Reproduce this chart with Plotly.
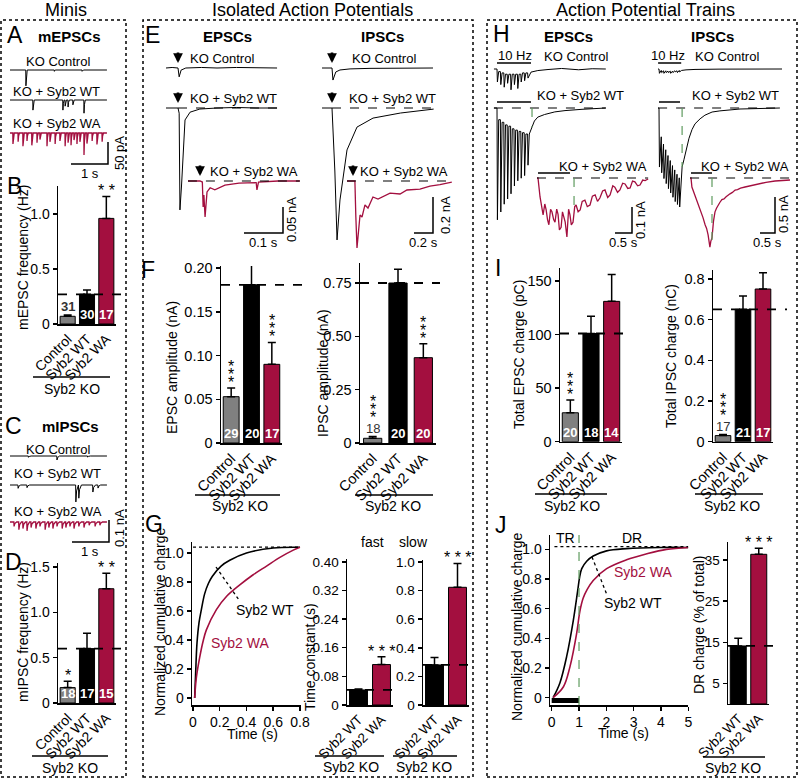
import plotly.graph_objects as go

# =============================== DATA ===============================
bar_groups = ["Control", "Syb2 WT", "Syb2 WA"]
tau_groups = ["Syb2 WT", "Syb2 WA"]

mepsc_freq = [0.07, 0.27, 0.96]
mepsc_freq_err = [0.012, 0.04, 0.20]
mepsc_n = ["31", "30", "17"]
mepsc_sig = ["", "", "**"]

mipsc_freq = [0.17, 0.60, 1.26]
mipsc_freq_err = [0.07, 0.17, 0.17]
mipsc_n = ["18", "17", "15"]
mipsc_sig = ["*", "", "**"]

epsc_amp = [0.053, 0.181, 0.090]
epsc_amp_err = [0.010, 0.023, 0.025]
epsc_amp_n = ["29", "20", "17"]
epsc_amp_sig = ["***", "", "***"]

ipsc_amp = [0.022, 0.75, 0.40]
ipsc_amp_err = [0.008, 0.065, 0.065]
ipsc_amp_n = ["18", "20", "20"]
ipsc_amp_sig = ["***", "", "***"]

epsc_charge = [27, 101, 131]
epsc_charge_err = [12, 16, 25]
epsc_charge_n = ["20", "18", "14"]
epsc_charge_sig = ["***", "", ""]

ipsc_charge = [0.030, 0.651, 0.751]
ipsc_charge_err = [0.005, 0.066, 0.080]
ipsc_charge_n = ["17", "21", "17"]
ipsc_charge_sig = ["***", "", ""]

tau_fast = [0.042, 0.113]
tau_fast_err = [0.003, 0.022]
tau_fast_sig = ["", "***"]
tau_slow = [0.28, 0.823]
tau_slow_err = [0.053, 0.167]
tau_slow_sig = ["", "***"]

dr_charge = [14.1, 36.4]
dr_charge_err = [1.9, 1.5]
dr_charge_sig = ["", "***"]

# cumulative charge (G: single AP, J: train)
g_wt_t = [0.0125, 0.02, 0.03, 0.045, 0.0625, 0.0875, 0.115, 0.145, 0.21, 0.275, 0.4, 0.6, 0.8]
g_wt_q = [0, 0.18, 0.38, 0.52, 0.61, 0.72, 0.79, 0.84, 0.91, 0.95, 1.0, 1.035, 1.04]
g_wa_t = [0.0125, 0.025, 0.05, 0.075, 0.1, 0.175, 0.25, 0.35, 0.45, 0.55, 0.65, 0.75, 0.8]
g_wa_q = [0, 0.14, 0.28, 0.39, 0.47, 0.61, 0.70, 0.78, 0.85, 0.91, 0.97, 1.02, 1.04]
g_plateau = 1.04

j_wt_t = [0.05, 0.30, 0.55, 0.79, 0.95, 1.02, 1.10, 1.28, 1.52, 2.01, 2.74, 3.96, 5.0]
j_wt_q = [0, 0.10, 0.28, 0.52, 0.72, 0.81, 0.87, 0.92, 0.955, 0.99, 1.005, 1.013, 1.013]
j_wa_t = [0.05, 0.43, 0.67, 0.91, 1.03, 1.15, 1.30, 1.52, 2.01, 2.74, 3.48, 4.2, 5.0]
j_wa_q = [0, 0.074, 0.21, 0.43, 0.58, 0.67, 0.73, 0.79, 0.87, 0.93, 0.97, 1.0, 1.013]
j_plateau = 1.018
j_train = [0.0, 1.0]

# A: mEPSC events (s, pA)
mepsc_t_end = 2.62
mepsc_ctrl_ev_t = [0.43, 1.20, 1.95]
mepsc_ctrl_ev_amp = [36, 3, 3]
mepsc_wt_ev_t = [0.62, 1.43, 1.49, 1.57, 1.70, 2.00]
mepsc_wt_ev_amp = [23, 23, 14, 16, 11, 30]
mepsc_wa_ev_t = [0.08, 0.22, 0.35, 0.46, 0.59, 0.73, 0.81, 1.00, 1.08, 1.22, 1.35, 1.49,
                 1.57, 1.65, 1.73, 1.81, 1.89, 2.00, 2.08, 2.22, 2.35, 2.49]
mepsc_wa_ev_amp = [25, 20, 30, 18, 28, 22, 15, 30, 20, 25, 18, 30, 22, 28, 16, 25, 20, 50, 24, 18, 26, 20]

# C: mIPSC events (s, nA)
mipsc_t_end = 2.62
mipsc_ctrl_ev_t = [0.5, 1.27, 2.1]
mipsc_ctrl_ev_amp = [0.006, 0.018, 0.005]
mipsc_wt_ev_t = [0.22, 0.46, 1.78, 1.86, 2.24, 2.38]
mipsc_wt_ev_amp = [0.015, 0.012, 0.077, 0.060, 0.032, 0.014]
mipsc_wa_ev_t = [0.11, 0.24, 0.35, 0.46, 0.57, 0.70, 0.81, 0.95, 1.05, 1.16, 1.27, 1.41, 1.51,
                 1.62, 1.73, 1.86, 2.0, 2.14, 2.3, 2.43]
mipsc_wa_ev_amp = [0.02, 0.035, 0.03, 0.04, 0.025, 0.03, 0.02, 0.035, 0.025, 0.03, 0.02, 0.03,
                   0.025, 0.02, 0.03, 0.02, 0.025, 0.015, 0.02, 0.015]

# E: single-AP evoked responses (s, nA)
e_epsc_ctrl_t = [-0.031, -0.015, 0.0, 0.003, 0.008, 0.02, 0.06, 0.1, 0.15, 0.2, 0.254]
e_epsc_ctrl_i = [0, 0.001, 0, -0.017, -0.004, 0, 0.001, 0, 0.001, 0, 0]
e_epsc_wt_t = [-0.031, 0.0, 0.003, 0.005, 0.009, 0.013, 0.018, 0.031, 0.056, 0.1, 0.15, 0.2, 0.254]
e_epsc_wt_i = [0, 0, -0.01, -0.196, -0.15, -0.08, -0.023, -0.008, -0.002, 0, 0.001, 0, 0]
e_epsc_wa_t = [-0.031, 0.0, 0.006, 0.008, 0.010, 0.013, 0.018, 0.026, 0.038, 0.064, 0.10, 0.144,
               0.146, 0.150, 0.2, 0.256]
e_epsc_wa_i = [0, 0, -0.002, -0.05, -0.027, -0.069, -0.021, -0.013, -0.017, -0.008, -0.004, -0.003,
               -0.017, -0.002, 0, 0]
e_ipsc_ctrl_t = [-0.105, 0.0, 0.01, 0.04, 0.084, 0.19, 0.4, 0.7, 1.063]
e_ipsc_ctrl_i = [0, 0, -0.067, -0.022, -0.011, -0.005, -0.002, 0, 0]
e_ipsc_wt_t = [-0.105, 0.0, 0.03, 0.053, 0.084, 0.158, 0.263, 0.432, 0.72, 1.07]
e_ipsc_wt_i = [0, 0, -0.35, -0.733, -0.511, -0.233, -0.106, -0.056, -0.028, -0.006]
e_ipsc_wa_t = [-0.063, 0.02, 0.03, 0.042, 0.074, 0.095, 0.126, 0.158, 0.21, 0.263, 0.39, 0.495,
               0.568, 0.705, 0.81, 0.915, 1.04]
e_ipsc_wa_i = [0, 0, -0.2, -0.372, -0.189, -0.2, -0.133, -0.15, -0.089, -0.1, -0.067, -0.072,
               -0.05, -0.045, -0.028, -0.02, -0.006]

# H: 10 Hz train responses (s, nA)
h_epsc_train = [0.0, 1.0]
h_epsc_stim_t = [0.0, 0.1, 0.2, 0.3, 0.4, 0.5, 0.6, 0.7, 0.8, 0.9]
h_epsc_ctrl_base = [0.0, 0.01, 0.015, 0.02, 0.02, 0.02, 0.02, 0.02, 0.015, 0.015]
h_epsc_ctrl_peak = [0.05, 0.06, 0.07, 0.055, 0.08, 0.06, 0.075, 0.05, 0.045, 0.035]
h_epsc_ctrl_tail_t = [1.0, 1.2, 1.5, 1.9, 2.4, 2.8, 3.2]
h_epsc_ctrl_tail_i = [-0.012, -0.006, -0.002, 0.002, -0.003, 0.001, 0.0]
h_epsc_wt_base = [0.0, 0.045, 0.055, 0.065, 0.07, 0.08, 0.085, 0.09, 0.095, 0.10]
h_epsc_wt_peak = [0.43, 0.40, 0.37, 0.35, 0.33, 0.30, 0.28, 0.27, 0.26, 0.22]
h_epsc_wt_tail_t = [0.95, 1.03, 1.1, 1.2, 1.4, 1.7, 2.0, 2.5, 3.2]
h_epsc_wt_tail_i = [-0.1, -0.073, -0.05, -0.035, -0.025, -0.015, -0.01, -0.005, 0.0]
h_epsc_wa_t = [-0.03, 0.0, 0.06, 0.1, 0.15, 0.2, 0.24, 0.28, 0.32, 0.37, 0.41, 0.46, 0.5, 0.55,
               0.59, 0.63, 0.68, 0.72, 0.76, 0.8, 0.85, 0.9, 0.94, 0.98, 1.03, 1.08, 1.12, 1.18,
               1.24, 1.3, 1.38, 1.45, 1.53, 1.6, 1.68, 1.75, 1.82, 1.9, 1.97, 2.05, 2.12, 2.2,
               2.26, 2.34, 2.41, 2.49, 2.56, 2.64, 2.71, 2.78, 2.85, 2.93, 3.0, 3.08, 3.15, 3.24]
h_epsc_wa_i = [0, 0, -0.073, -0.11, -0.142, -0.1, -0.123, -0.16, -0.18, -0.12, -0.13, -0.16,
               -0.17, -0.12, -0.14, -0.2, -0.19, -0.13, -0.15, -0.17, -0.227, -0.12, -0.142,
               -0.18, -0.17, -0.11, -0.104, -0.13, -0.123, -0.09, -0.085, -0.11, -0.104, -0.07,
               -0.065, -0.09, -0.077, -0.05, -0.046, -0.075, -0.065, -0.03, -0.035, -0.055,
               -0.046, -0.02, -0.023, -0.04, -0.038, -0.012, -0.015, -0.03, -0.027, -0.008,
               -0.01, -0.004]
h_epsc_end_of_train = {"wt": (1.03, -0.073), "wa": (1.06, -0.11)}

h_ipsc_train = [0.0, 0.7]
h_ipsc_stim_t = [0.0, 0.075, 0.15, 0.225, 0.3, 0.375, 0.45, 0.525, 0.6, 0.675]
h_ipsc_ctrl_base = [0.0, 0.02, 0.025, 0.025, 0.03, 0.03, 0.03, 0.025, 0.025, 0.02]
h_ipsc_ctrl_peak = [0.06, 0.05, 0.06, 0.05, 0.05, 0.06, 0.05, 0.04, 0.05, 0.04]
h_ipsc_ctrl_tail_t = [0.75, 0.9, 1.2, 2.0, 3.0, 4.1]
h_ipsc_ctrl_tail_i = [-0.02, -0.012, -0.006, -0.002, 0.0, 0.0]
h_ipsc_wt_base = [0.0, 0.40, 0.5, 0.58, 0.66, 0.73, 0.8, 0.86, 0.92, 0.97]
h_ipsc_wt_peak = [0.82, 0.9, 0.98, 1.05, 1.12, 1.18, 1.24, 1.3, 1.34, 1.375]
h_ipsc_wt_tail_t = [0.73, 0.77, 0.83, 0.9, 1.0, 1.1, 1.2, 1.37, 1.53, 1.77, 2.03, 2.7, 4.03]
h_ipsc_wt_tail_i = [-1.0, -0.82, -0.72, -0.6, -0.42, -0.3, -0.22, -0.15, -0.1, -0.056, -0.04, -0.014, 0.0]
h_ipsc_wa_t = [-0.03, 0.0, 0.03, 0.07, 0.13, 0.18, 0.23, 0.3, 0.35, 0.4, 0.47, 0.52, 0.57, 0.6,
               0.63, 0.66, 0.7, 0.75, 0.8, 0.85, 0.9, 0.96, 1.03, 1.1, 1.17, 1.23, 1.3, 1.38,
               1.47, 1.55, 1.65, 1.8, 1.95, 2.1, 2.3, 2.5, 2.8, 3.05, 3.3]
h_ipsc_wa_i = [0, 0, -0.125, -0.17, -0.26, -0.3, -0.36, -0.44, -0.48, -0.55, -0.65, -0.7, -0.79,
               -0.85, -0.96, -0.88, -0.83, -0.6, -0.47, -0.42, -0.375, -0.34, -0.3, -0.29, -0.26,
               -0.236, -0.22, -0.2, -0.167, -0.16, -0.14, -0.125, -0.11, -0.095, -0.083, -0.06,
               -0.042, -0.035, -0.028]
h_ipsc_end_of_train = {"wt": (0.77, -0.82), "wa": (0.70, -0.86)}

# ============================ HELPERS ================================
W, H = 800, 779
FONT = "Arial, Liberation Sans, Helvetica, sans-serif"
RED = "#A30F3F"
GREEN = "#5E9B5E"
COL3 = ["#808080", "#000000", RED]
COL2 = ["#000000", RED]


def fx(p):
    return p / W


def fy(p):
    return 1.0 - p / H


fig = go.Figure()
AXES = {}
SHAPES = []
ANNS = []
_n = [0]


def new_axes(xpx, ypx, xrange, yrange, xstyle=None, ystyle=None):
    _n[0] += 1
    s = "" if _n[0] == 1 else str(_n[0])
    xa = dict(domain=[fx(xpx[0]), fx(xpx[1])], range=list(xrange), anchor="y" + s,
              fixedrange=True, automargin=False)
    ya = dict(domain=[fy(ypx[0]), fy(ypx[1])], range=list(yrange), anchor="x" + s,
              fixedrange=True, automargin=False)
    if xstyle is None:
        xa["visible"] = False
    else:
        xa.update(xstyle)
    if ystyle is None:
        ya["visible"] = False
    else:
        ya.update(ystyle)
    AXES["xaxis" + s] = xa
    AXES["yaxis" + s] = ya
    return "x" + s, "y" + s


def txt(cx, cy, s, size=13, color="black", bold=False, angle=0, xanchor="center"):
    ANNS.append(dict(xref="paper", yref="paper", x=fx(cx), y=fy(cy),
                     text=("<b>%s</b>" % s) if bold else s, showarrow=False,
                     xanchor=xanchor, yanchor="middle", textangle=angle,
                     font=dict(family=FONT, size=size, color=color)))


def pline(x0, y0, x1, y1, width=1.5, dash="solid", color="black"):
    SHAPES.append(dict(type="line", xref="paper", yref="paper", x0=fx(x0), y0=fy(y0),
                       x1=fx(x1), y1=fy(y1), line=dict(color=color, width=width, dash=dash)))


def trace_panel(xpx, ypx, origin, pps, ppu):
    ox, oy = origin
    xr, yr = new_axes(xpx, ypx, [(xpx[0] - ox) / pps, (xpx[1] - ox) / pps],
                      [(oy - ypx[0]) / ppu, (oy - ypx[1]) / ppu])
    return dict(x=xr, y=yr, ox=ox, oy=oy, pps=pps, ppu=ppu)


def plot(p, xs, ys, color="black", width=1.0, dash=None, shape="linear"):
    line = dict(color=color, width=width, shape=shape)
    if dash:
        line["dash"] = dash
    fig.add_trace(go.Scatter(x=xs, y=ys, mode="lines", line=line, xaxis=p["x"], yaxis=p["y"],
                             hoverinfo="skip", showlegend=False))


def dshape(p, x0, y0, x1, y1, color="black", width=1.2, dash="dash"):
    SHAPES.append(dict(type="line", xref=p["x"], yref=p["y"], x0=x0, y0=y0, x1=x1, y1=y1,
                       line=dict(color=color, width=width, dash=dash)))


def stim_bar(p, t0, t1, up_px, width=1.5):
    SHAPES.append(dict(type="line", xref=p["x"], yref=p["y"], ysizemode="pixel", yanchor=0,
                       x0=t0, x1=t1, y0=up_px, y1=up_px, line=dict(color="black", width=width)))


def stim_arrow(p):
    ANNS.append(dict(xref=p["x"], yref=p["y"], x=0, y=0, text="", showarrow=True, ax=0, ay=-17,
                     arrowhead=2, arrowsize=0.75, arrowwidth=2.6, arrowcolor="black", standoff=5))


def scale_bar(p, corner_px, dt, di, tlabel, ilabel, tlab_px, ilab_px):
    ct = (corner_px[0] - p["ox"]) / p["pps"]
    ci = (p["oy"] - corner_px[1]) / p["ppu"]
    plot(p, [ct - dt, ct, ct], [ci, ci, ci + di], width=1.5)
    txt(tlab_px[0], tlab_px[1], tlabel, 13)
    txt(ilab_px[0], ilab_px[1], ilabel, 13, angle=-90)


def events_trace(t_end, ev_t, ev_a, rise, d1, d2, frac=0.35):
    xs, ys = [0.0], [0.0]
    for t, a in zip(ev_t, ev_a):
        xs += [t - rise, t, t + d1, t + d2]
        ys += [0.0, -a, -frac * a, 0.0]
    xs.append(t_end)
    ys.append(0.0)
    return xs, ys


def train_trace(t_start, stim_t, base, peak, rise, decay, tail_t, tail_i):
    xs, ys = [t_start], [0.0]
    for k, t in enumerate(stim_t):
        xs += [t, t + rise]
        ys += [-base[k], -peak[k]]
        if k + 1 < len(stim_t):
            xs.append(t + decay)
            ys.append(-base[k + 1])
    return xs + list(tail_t), ys + list(tail_i)


AXS = dict(showline=True, linecolor="black", linewidth=1.5, showgrid=False, zeroline=False)


def tickstyle(size):
    return dict(ticks="outside", ticklen=4, tickwidth=1.5, tickcolor="black",
                tickfont=dict(family=FONT, size=size, color="black"))


def bar_chart(xpx, y0px, ytoppx, ppu, cats, vals, errs, colors, tickvals, ticktext, mean_end_px,
              n_labels=None, sigs=None, stacked=False, tsize=14, above_bold=False, bar_w=0.78):
    ymax = (y0px - ytoppx) / ppu
    xs = dict(AXS, ticks="", tickangle=-45, type="category",
              tickfont=dict(family=FONT, size=tsize, color="black"))
    ys = dict(AXS, tickvals=tickvals, ticktext=ticktext, **tickstyle(tsize))
    xr, yr = new_axes(xpx, (y0px, ytoppx), [-0.5, len(cats) - 0.5], [0, ymax], xs, ys)
    fig.add_trace(go.Bar(x=cats, y=vals, width=bar_w,
                         marker=dict(color=colors, line=dict(color="black", width=1)),
                         error_y=dict(type="data", symmetric=False, array=errs,
                                      arrayminus=[0] * len(vals), color="black",
                                      thickness=1.5, width=4),
                         xaxis=xr, yaxis=yr, hoverinfo="skip", showlegend=False))
    ref = vals[cats.index("Syb2 WT")]
    SHAPES.append(dict(type="line", xref="paper", yref=yr, x0=fx(xpx[0]), x1=fx(mean_end_px),
                       y0=ref, y1=ref, line=dict(color="black", width=1.8, dash="dash")))
    for k, c in enumerate(cats):
        top = vals[k] + errs[k]
        extra = 0
        if n_labels:
            if vals[k] * ppu >= 14:
                ANNS.append(dict(xref=xr, yref=yr, x=c, y=0, yanchor="bottom", yshift=0,
                                 text="<b>%s</b>" % n_labels[k], showarrow=False,
                                 font=dict(family=FONT, size=13, color="white")))
            else:
                ANNS.append(dict(xref=xr, yref=yr, x=c, y=top, yanchor="bottom", yshift=-1,
                                 text=("<b>%s</b>" if above_bold else "%s") % n_labels[k],
                                 showarrow=False, font=dict(family=FONT, size=13, color="#333333")))
                extra = 14
        if sigs and sigs[k]:
            if stacked:
                for j in range(len(sigs[k])):
                    ANNS.append(dict(xref=xr, yref=yr, x=c, y=top, yanchor="bottom",
                                     yshift=extra - 5 + 8 * j, text="*", showarrow=False,
                                     font=dict(family=FONT, size=16, color="black")))
            else:
                ANNS.append(dict(xref=xr, yref=yr, x=c, y=top, yanchor="bottom",
                                 yshift=extra - 5, text=" ".join(sigs[k]), showarrow=False,
                                 font=dict(family=FONT, size=16, color="black")))
    return xr, yr


def cum_axes(xpx, ypx, xrange, yrange, xt, xtt, yt, ytt, tsize=13):
    xs = dict(AXS, tickvals=xt, ticktext=xtt, **tickstyle(tsize))
    ys = dict(AXS, tickvals=yt, ticktext=ytt, **tickstyle(tsize))
    xr, yr = new_axes(xpx, ypx, xrange, yrange, xs, ys)
    return dict(x=xr, y=yr)


def ko_label(x0, x1, yline, cx, ytext):
    pline(x0, yline, x1, yline, width=1.3)
    txt(cx, ytext, "Syb2 KO", 14)


# ============================ FRAMES / TITLES ========================
for bx0, bx1 in [(1, 126), (143, 473), (487, 797)]:
    SHAPES.append(dict(type="rect", xref="paper", yref="paper", x0=fx(bx0), x1=fx(bx1),
                       y0=fy(777), y1=fy(20), line=dict(color="black", width=1.5, dash="dot")))
txt(66, 10, "Minis", 18)
txt(312, 10, "Isolated Action Potentials", 18)
txt(645, 10, "Action Potential Trains", 18)
for L, (lx, ly) in {"A": (15, 35), "B": (14, 186), "C": (13, 426), "D": (13, 562), "E": (152, 35),
                    "F": (148, 270), "G": (154, 524), "H": (502, 34), "I": (498, 268),
                    "J": (501, 525)}.items():
    txt(lx, ly, L, 23)

# ============================ A: mEPSC traces ========================
A_PPS, A_PPU = 37.0, 0.44
txt(69, 36, "mEPSCs", 15, bold=True)
pA1 = trace_panel((10, 112), (92, 60), (10, 70), A_PPS, A_PPU)
plot(pA1, *events_trace(mepsc_t_end, mepsc_ctrl_ev_t, mepsc_ctrl_ev_amp, 0.004, 0.012, 0.035))
txt(58, 61, "KO Control", 13)
pA2 = trace_panel((10, 112), (118, 90), (10, 100), A_PPS, A_PPU)
plot(pA2, *events_trace(mepsc_t_end, mepsc_wt_ev_t, mepsc_wt_ev_amp, 0.004, 0.012, 0.035))
txt(57, 91, "KO + Syb2 WT", 13)
pA3 = trace_panel((10, 112), (170, 120), (10, 133), A_PPS, A_PPU)
plot(pA3, *events_trace(mepsc_t_end, mepsc_wa_ev_t, mepsc_wa_ev_amp, 0.004, 0.012, 0.035),
     color=RED, width=1.3)
txt(57, 123, "KO + Syb2 WA", 13)
scale_bar(pA3, (108, 164), 1.0, 50, "1 s", "50 pA", (90, 173), (119, 153))

# ============================ B: mEPSC frequency =====================
bar_chart((58, 116), 324, 186, 110.0, bar_groups, mepsc_freq, mepsc_freq_err, COL3,
          [0, 0.5, 1.0], ["0", "0.5", "1.0"], 125, mepsc_n, mepsc_sig, tsize=14, above_bold=True)
txt(23, 258, "mEPSC frequency (Hz)", 14, angle=-90)
ko_label(33, 110, 377, 72, 389)

# ============================ C: mIPSC traces ========================
C_PPS, C_PPU = 37.0, 220.0
txt(70, 427, "mIPSCs", 15, bold=True)
pC1 = trace_panel((10, 112), (468, 446), (10, 456), C_PPS, C_PPU)
plot(pC1, *events_trace(mipsc_t_end, mipsc_ctrl_ev_t, mipsc_ctrl_ev_amp, 0.006, 0.02, 0.07))
txt(58, 449, "KO Control", 13)
pC2 = trace_panel((10, 112), (508, 476), (10, 485), C_PPS, C_PPU)
plot(pC2, *events_trace(mipsc_t_end, mipsc_wt_ev_t, mipsc_wt_ev_amp, 0.006, 0.02, 0.07))
txt(58, 473, "KO + Syb2 WT", 13)
pC3 = trace_panel((10, 112), (548, 512), (10, 522), C_PPS, C_PPU)
plot(pC3, *events_trace(mipsc_t_end, mipsc_wa_ev_t, mipsc_wa_ev_amp, 0.006, 0.02, 0.07),
     color=RED, width=1.3)
txt(58, 511, "KO + Syb2 WA", 13)
scale_bar(pC3, (109, 542), 1.0, 0.1, "1 s", "0.1 nA", (90, 551), (119, 528))

# ============================ D: mIPSC frequency =====================
bar_chart((58, 116), 703, 563, 90.7, bar_groups, mipsc_freq, mipsc_freq_err, COL3,
          [0, 0.5, 1.0, 1.5], ["0", "0.5", "1.0", "1.5"], 125, mipsc_n, mipsc_sig, tsize=14)
txt(23, 632, "mIPSC frequency (Hz)", 14, angle=-90)
ko_label(32, 108, 756, 70, 768)

# ============================ E: single AP traces ====================
E1_PPS, E1_PPU = 390.0, 520.0
E2_PPS, E2_PPU = 95.0, 180.0
txt(228, 36, "EPSCs", 15, bold=True)
txt(382, 36, "IPSCs", 15, bold=True)

pE1 = trace_panel((166, 278), (82, 45), (178, 68), E1_PPS, E1_PPU)
plot(pE1, e_epsc_ctrl_t, e_epsc_ctrl_i)
stim_arrow(pE1)
txt(222, 58, "KO Control", 13)
pE2 = trace_panel((166, 278), (215, 85), (178, 108), E1_PPS, E1_PPU)
dshape(pE2, 0, 0, e_epsc_wt_t[-1], 0)
plot(pE2, e_epsc_wt_t, e_epsc_wt_i)
stim_arrow(pE2)
txt(233, 99, "KO + Syb2 WT", 13)
pE3 = trace_panel((188, 301), (240, 158), (200, 181), E1_PPS, E1_PPU)
dshape(pE3, e_epsc_wa_t[0], 0, e_epsc_wa_t[-1], 0)
plot(pE3, e_epsc_wa_t, e_epsc_wa_i, color=RED, width=1.3)
stim_arrow(pE3)
txt(254, 172, "KO + Syb2 WA", 13)
scale_bar(pE3, (283, 233), 0.1, 0.05, "0.1 s", "0.05 nA", (263, 242), (292, 220))

pE4 = trace_panel((322, 436), (86, 45), (332, 68), E2_PPS, E2_PPU)
plot(pE4, e_ipsc_ctrl_t, e_ipsc_ctrl_i)
stim_arrow(pE4)
txt(384, 58, "KO Control", 13)
pE5 = trace_panel((322, 436), (245, 85), (332, 108), E2_PPS, E2_PPU)
dshape(pE5, 0, 0, e_ipsc_wt_t[-1], 0)
plot(pE5, e_ipsc_wt_t, e_ipsc_wt_i)
stim_arrow(pE5)
txt(392, 99, "KO + Syb2 WT", 13)
pE6 = trace_panel((346, 454), (253, 158), (353, 181), E2_PPS, E2_PPU)
dshape(pE6, e_ipsc_wa_t[0], 0, e_ipsc_wa_t[-1], 0)
plot(pE6, e_ipsc_wa_t, e_ipsc_wa_i, color=RED, width=1.3)
stim_arrow(pE6)
txt(404, 172, "KO + Syb2 WA", 13)
scale_bar(pE6, (433, 233), 0.2, 0.2, "0.2 s", "0.2 nA", (423, 242), (445, 215))

# ============================ F: amplitudes ==========================
bar_chart((221, 282), 443, 266, 874.0, bar_groups, epsc_amp, epsc_amp_err, COL3,
          [0, 0.05, 0.10, 0.15, 0.20], ["0", "0.05", "0.10", "0.15", "0.20"], 302,
          epsc_amp_n, epsc_amp_sig, stacked=True, tsize=14.5)
txt(172, 368, "EPSC amplitude (nA)", 14, angle=-90)
ko_label(195, 280, 495, 240, 506)

bar_chart((360, 436), 443, 263, 213.3, bar_groups, ipsc_amp, ipsc_amp_err, COL3,
          [0, 0.25, 0.5, 0.75], ["0", "0.25", "0.50", "0.75"], 440,
          ipsc_amp_n, ipsc_amp_sig, stacked=True, tsize=14.5, bar_w=0.72)
txt(323, 373, "IPSC amplitude (nA)", 14, angle=-90)
ko_label(355, 433, 495, 393, 506)

# ============================ G: kinetics ============================
pG = cum_axes((192, 301.3), (705, 542), [-0.0075, 0.81], [-0.048, 1.076],
              [0, 0.2, 0.4, 0.6, 0.8], ["0", "0.2", "0.4", "0.6", "0.8"],
              [0, 0.2, 0.4, 0.6, 0.8, 1.0], ["0", "0.2", "0.4", "0.6", "0.8", "1.0"], tsize=14)
dshape(pG, 0, g_plateau, 0.8, g_plateau, width=1.2, dash="dot")
plot(pG, g_wt_t, g_wt_q, width=1.6, shape="spline")
plot(pG, g_wa_t, g_wa_q, color=RED, width=1.6, shape="spline")
pline(216, 567, 239, 600, width=1.3, dash="dot")
txt(265, 610, "Syb2 WT", 14)
txt(240, 643, "Syb2 WA", 14, color=RED)
txt(252, 734, "Time (s)", 14)
txt(160, 622, "Normalized cumulative charge", 14, angle=-90)

bar_chart((347, 393), 705, 559, 358.0, tau_groups, tau_fast, tau_fast_err, COL2,
          [0, 0.08, 0.16, 0.24, 0.32, 0.40], ["0", "0.08", "0.16", "0.24", "0.32", "0.40"], 396,
          None, tau_fast_sig, tsize=13.5)
txt(372, 542, "fast", 14)
txt(310, 657, "Time constant (s)", 14, angle=-90)
ko_label(315, 384, 756, 351, 767)

bar_chart((423, 469), 705, 560, 143.0, tau_groups, tau_slow, tau_slow_err, COL2,
          [0, 0.2, 0.4, 0.6, 0.8, 1.0], ["0", "0.2", "0.4", "0.6", "0.8", "1.0"], 471,
          None, tau_slow_sig, tsize=13.5)
txt(414, 542, "slow", 14)
ko_label(393, 457, 756, 424, 767)

# ============================ H: train traces ========================
H1_PPS, H1_PPU = 34.0, 260.0
H2_PPS, H2_PPU = 30.0, 72.0
txt(568, 37, "EPSCs", 15, bold=True)
txt(712, 37, "IPSCs", 15, bold=True)

pH1 = trace_panel((493, 608), (96, 56), (497, 69), H1_PPS, H1_PPU)
plot(pH1, *train_trace(-0.09, h_epsc_stim_t, h_epsc_ctrl_base, h_epsc_ctrl_peak, 0.012, 0.05,
                       h_epsc_ctrl_tail_t, h_epsc_ctrl_tail_i))
stim_bar(pH1, h_epsc_train[0], h_epsc_train[1], 6)
txt(515, 55, "10 Hz", 13)
txt(576, 57, "KO Control", 13)

pH2 = trace_panel((493, 608), (226, 96), (497, 108), H1_PPS, H1_PPU)
dshape(pH2, -0.09, 0, h_epsc_wt_tail_t[-1], 0)
plot(pH2, *train_trace(-0.09, h_epsc_stim_t, h_epsc_wt_base, h_epsc_wt_peak, 0.012, 0.05,
                       h_epsc_wt_tail_t, h_epsc_wt_tail_i))
dshape(pH2, h_epsc_end_of_train["wt"][0], 0, *h_epsc_end_of_train["wt"], color=GREEN, width=1.2)
stim_bar(pH2, h_epsc_train[0], h_epsc_train[1], 6)
txt(580, 95, "KO + Syb2 WT", 13)

pH3 = trace_panel((535, 650), (241, 166), (538, 178), H1_PPS, H1_PPU)
dshape(pH3, h_epsc_wa_t[0], 0, h_epsc_wa_t[-1], 0)
plot(pH3, h_epsc_wa_t, h_epsc_wa_i, color=RED, width=1.3)
dshape(pH3, h_epsc_end_of_train["wa"][0], 0, *h_epsc_end_of_train["wa"], color=GREEN, width=1.2)
stim_bar(pH3, h_epsc_train[0], h_epsc_train[1] - 0.06, 5)
txt(603, 166, "KO + Syb2 WA", 13)
scale_bar(pH3, (632, 233), 0.5, 0.1, "0.5 s", "0.1 nA", (623, 242), (641, 220))

pH4 = trace_panel((655, 784), (80, 56), (659, 69), H2_PPS, H2_PPU)
plot(pH4, *train_trace(-0.03, h_ipsc_stim_t, h_ipsc_ctrl_base, h_ipsc_ctrl_peak, 0.015, 0.06,
                       h_ipsc_ctrl_tail_t, h_ipsc_ctrl_tail_i))
stim_bar(pH4, h_ipsc_train[0] - 0.03, h_ipsc_train[1] + 0.04, 6)
txt(668, 55, "10 Hz", 13)
txt(727, 57, "KO Control", 13)

pH5 = trace_panel((655, 784), (212, 96), (659, 108), H2_PPS, H2_PPU)
dshape(pH5, -0.03, 0, h_ipsc_wt_tail_t[-1], 0)
plot(pH5, *train_trace(-0.03, h_ipsc_stim_t, h_ipsc_wt_base, h_ipsc_wt_peak, 0.015, 0.06,
                       h_ipsc_wt_tail_t, h_ipsc_wt_tail_i))
dshape(pH5, h_ipsc_end_of_train["wt"][0], 0, *h_ipsc_end_of_train["wt"], color=GREEN, width=1.2)
stim_bar(pH5, h_ipsc_train[0], h_ipsc_train[1], 6)
txt(735, 95, "KO + Syb2 WT", 13)

pH6 = trace_panel((687, 793), (253, 166), (691, 178), H2_PPS, H2_PPU)
dshape(pH6, h_ipsc_wa_t[0], 0, h_ipsc_wa_t[-1], 0)
plot(pH6, h_ipsc_wa_t, h_ipsc_wa_i, color=RED, width=1.3)
dshape(pH6, h_ipsc_end_of_train["wa"][0], 0, *h_ipsc_end_of_train["wa"], color=GREEN, width=1.2)
stim_bar(pH6, h_ipsc_train[0], h_ipsc_train[1], 5)
txt(745, 166, "KO + Syb2 WA", 13)
scale_bar(pH6, (775, 233), 0.5, 0.5, "0.5 s", "0.5 nA", (767, 242), (783, 214))

# ============================ I: total charge ========================
bar_chart((560, 622), 441.7, 268.3, 1.0713, bar_groups, epsc_charge, epsc_charge_err, COL3,
          [0, 50, 100, 150], ["0", "50", "100", "150"], 628,
          epsc_charge_n, epsc_charge_sig, stacked=True, tsize=14.5)
txt(519, 355, "Total EPSC charge (pC)", 14, angle=-90)
ko_label(535, 607, 494, 572, 506)

bar_chart((713, 773), 441.7, 270, 203.3, bar_groups, ipsc_charge, ipsc_charge_err, COL3,
          [0, 0.2, 0.4, 0.6, 0.8], ["0", "0.2", "0.4", "0.6", "0.8"], 787,
          ipsc_charge_n, ipsc_charge_sig, stacked=True, tsize=14.5)
txt(671, 356, "Total IPSC charge (nC)", 14, angle=-90)
ko_label(695, 763, 494, 732, 506)

# ============================ J: train cumulative ====================
pJ = cum_axes((550, 688.3), (705, 535), [-0.062, 5.0], [-0.049, 1.097],
              [0, 1, 2, 3, 4, 5], ["0", "1", "2", "3", "4", "5"],
              [0, 0.2, 0.4, 0.6, 0.8, 1.0], ["0", "0.2", "0.4", "0.6", "0.8", "1.0"], tsize=14)
SHAPES.append(dict(type="line", xref=pJ["x"], yref=pJ["y"] + " domain", x0=j_train[1], x1=j_train[1],
                   y0=0, y1=1, line=dict(color=GREEN, width=1.2, dash="dash")))
dshape(pJ, 0.1, j_plateau, 5.0, j_plateau, width=1.2, dash="dot")
plot(pJ, j_train, [-0.019, -0.019], width=5)
plot(pJ, j_wt_t, j_wt_q, width=1.6, shape="spline")
plot(pJ, j_wa_t, j_wa_q, color=RED, width=1.6, shape="spline")
pline(592, 557, 607, 595, width=1.3, dash="dot")
txt(565, 538, "TR", 14)
txt(632, 538, "DR", 14)
txt(643, 572, "Syb2 WA", 14, color=RED)
txt(633, 603, "Syb2 WT", 14)
txt(623, 733, "Time (s)", 14)
txt(517, 627, "Normalized cumulative charge", 14, angle=-90)

bar_chart((728, 769), 703.9, 541.7, 4.11, tau_groups, dr_charge, dr_charge_err, COL2,
          [5, 15, 25, 35], ["5", "15", "25", "35"], 780, None, dr_charge_sig, tsize=13.5)
txt(699, 625, "DR charge (% of total)", 14, angle=-90)
ko_label(703, 765, 757, 733, 768)

# ============================ LAYOUT =================================
fig.update_layout(width=W, height=H,
                  margin=dict(l=0, r=0, t=0, b=0, pad=0, autoexpand=False),
                  paper_bgcolor="white", plot_bgcolor="white", showlegend=False,
                  font=dict(family=FONT, color="black"), shapes=SHAPES, annotations=ANNS,
                  **AXES)
fig.write_html("out.html", config={"displayModeBar": False, "staticPlot": True},
               post_script="document.body.style.margin='0px';"
                           "document.body.style.padding='0px';"
                           "document.body.style.overflow='hidden';")
